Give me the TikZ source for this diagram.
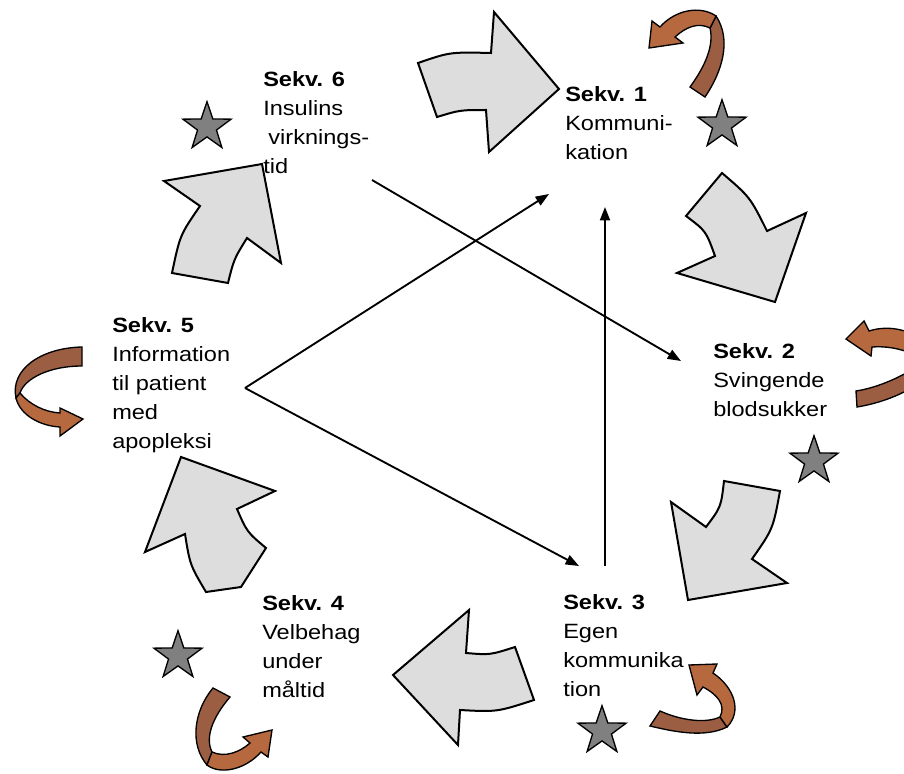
\documentclass[tikz,border=0pt]{standalone}
\usepackage{fontspec}
\setmainfont[FakeStretch=1.14]{Liberation Sans}
\usetikzlibrary{arrows.meta,shapes.geometric}
\definecolor{greyfill}{RGB}{221,221,221}
\definecolor{brownlight}{RGB}{182,104,62}
\definecolor{browndark}{RGB}{156,94,66}
\definecolor{starfill}{RGB}{128,128,128}
\begin{document}
\begin{tikzpicture}[x=0.75pt,y=-0.75pt,
  bigarrow/.style={draw=black,line width=1.5pt,fill=greyfill,line join=miter},
  ribbonlight/.style={draw=black,line width=1pt,fill=brownlight,line join=miter},
  ribbondark/.style={draw=black,line width=1pt,fill=browndark,line join=miter},
  starmark/.style={star,star points=5,star point ratio=2.55,minimum size=38pt,inner sep=0pt,draw=black,line width=1pt,fill=starfill},
  seqlabel/.style={anchor=north west,inner sep=0pt,align=left,font=\fontsize{15.5pt}{21.75pt}\selectfont},
  conn/.style={line width=1.4pt,-{Triangle[length=10pt,width=7.5pt]}}]
\useasboundingbox (0,0) rectangle (904,774);
\clip (0,0) rectangle (904,774);

% big grey arrows
\draw[bigarrow] (418,63) .. controls (450,52) .. (491,53) -- (494,12) -- (559,89) -- (489,152) -- (486,110) .. controls (460,110) .. (437,117) -- cycle;
\draw[bigarrow] (722,173) .. controls (750,197) .. (767,231) -- (806,213) -- (775,302) -- (677,273) -- (715,256) .. controls (706,231) .. (686,216) -- cycle;
\draw[bigarrow] (724,481) -- (780,491) .. controls (773,529) .. (752,559) -- (787,583) -- (688,600) -- (671,502) -- (706,527) .. controls (721,507) .. (724,481) -- cycle;
\draw[bigarrow] (469,610) -- (466,653) .. controls (490,655) .. (515,647) -- (534,700) .. controls (497,712) .. (460,710) -- (458,745) -- (393,675) -- cycle;
\draw[bigarrow] (181,457) -- (275,491) -- (237,509) .. controls (247,532) .. (266,548) -- (241,587) -- (206,592) .. controls (190,565) .. (185,534) -- (145,552) -- cycle;
\draw[bigarrow] (164,181) -- (262,164) -- (281,263) -- (247,238) .. controls (234,259) .. (228,283) -- (172,273) .. controls (180,235) .. (200,206) -- cycle;

% brown curved arrows
\draw[ribbondark] (716,16) .. controls (732,40) and (722,72) .. (705,97) -- (690,87) .. controls (706,65) and (714,45) .. (710,28) -- cycle;
\draw[ribbonlight] (649,48) -- (652,21) -- (660,27) .. controls (675,10) and (700,5) .. (716,16) -- (710,28) .. controls (698,22) and (686,27) .. (675,37) -- (683,43) -- cycle;

\draw[ribbondark] (856,391) .. controls (875,388) and (895,380) .. (915,368) -- (915,386) .. controls (895,398) and (875,404) .. (857,407) -- cycle;
\draw[ribbonlight] (846,339) -- (864,321) -- (869,331) .. controls (885,326) and (900,328) .. (915,335) -- (915,355) .. controls (900,348) and (885,346) .. (872,347) -- (871,356) -- cycle;

\draw[ribbondark] (727,727) .. controls (705,738) and (675,732) .. (650,726) -- (660,711) .. controls (680,720) and (705,724) .. (720,717) -- cycle;
\draw[ribbonlight] (689,665) -- (717,664) -- (713,673) .. controls (735,688) and (742,712) .. (727,727) -- (720,717) .. controls (726,705) and (718,695) .. (703,687) -- (697,695) -- cycle;

\draw[ribbondark] (213,688) -- (230,697) .. controls (212,718) and (205,738) .. (212,752) -- (207,765) .. controls (190,745) and (193,712) .. (213,688) -- cycle;
\draw[ribbonlight] (243,737) -- (272,730) -- (268,757) -- (261,752) .. controls (245,770) and (220,775) .. (207,765) -- (212,752) .. controls (225,758) and (240,752) .. (250,743) -- cycle;

\draw[ribbondark] (82,347) -- (82,366) .. controls (50,366) and (25,378) .. (20,393) -- (16,398) .. controls (10,370) and (40,348) .. (82,347) -- cycle;
\draw[ribbonlight] (60,408) -- (83,419) -- (60,436) -- (60,427) .. controls (40,426) and (20,415) .. (16,398) -- (20,393) .. controls (30,405) and (45,412) .. (60,413) -- cycle;

% stars
\node[starmark] (star1) at (722,125) {};
\node[starmark] (star2) at (814,461) {};
\node[starmark] (star3) at (602,731) {};
\node[starmark] (star4) at (178,656) {};
\node[starmark] (star6) at (207,127) {};

% labels
\node[seqlabel] (s1) at (565,86) {\textbf{Sekv. 1}\\Kommuni-\\kation};
\node[seqlabel] (s2) at (713,343) {\textbf{Sekv. 2}\\Svingende\\blodsukker};
\node[seqlabel] (s3) at (563,594) {\textbf{Sekv. 3}\\Egen\\kommunika\\tion};
\node[seqlabel] (s4) at (262,595) {\textbf{Sekv. 4}\\Velbehag\\under\\måltid};
\node[seqlabel] (s5) at (112,317) {\textbf{Sekv. 5}\\Information\\til patient\\med\\apopleksi};
\node[seqlabel] (s6) at (263,71) {\textbf{Sekv. 6}\\Insulins\\\hspace*{0.25em}virknings-\\tid};

% connectors
\coordinate (v5) at (245,388);
\coordinate (e1) at (549,194);
\coordinate (e3) at (579,566);
\coordinate (b3) at (605,566);
\coordinate (e1b) at (605,207);
\coordinate (b6) at (372,180);
\coordinate (e2) at (681,361);
\draw[conn] (v5) -- (e1);
\draw[conn] (v5) -- (e3);
\draw[conn] (b3) -- (e1b);
\draw[conn] (b6) -- (e2);
\end{tikzpicture}
\end{document}
